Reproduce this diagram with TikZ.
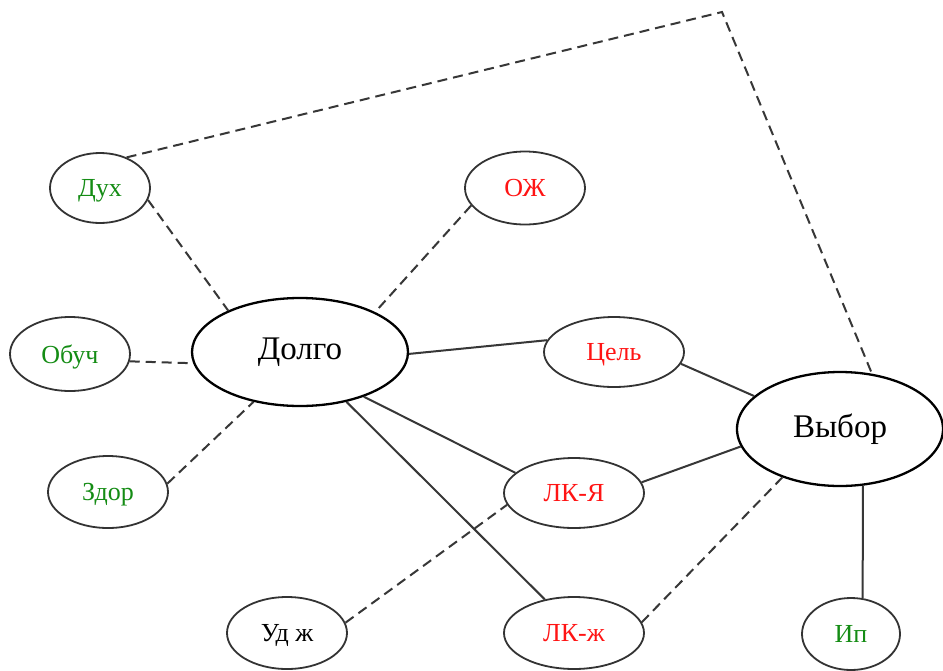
\documentclass[tikz,border=0pt]{standalone}
\usepackage{fontspec}
\setmainfont{Liberation Serif}
\usetikzlibrary{shapes.geometric}
\definecolor{lblgreen}{RGB}{20,140,20}
\definecolor{lblred}{RGB}{255,20,20}
\definecolor{edgegray}{RGB}{55,55,55}
\begin{document}
\begin{tikzpicture}[x=1pt,y=-1pt,
 small/.style={ellipse,draw=black!80,line width=1.8pt,inner sep=0pt,font=\fontsize{26}{28}\selectfont,text depth=0pt},
 big/.style={ellipse,draw=black,line width=2.3pt,inner sep=0pt,font=\fontsize{33}{36}\selectfont},
 solidedge/.style={draw=edgegray,line width=2pt},
 dashedge/.style={draw=edgegray,line width=2pt,dash pattern=on 10pt off 6pt}]
\fill[white] (0,0) rectangle (943,670);
\useasboundingbox (0,0) rectangle (943,670);

\node[small,minimum width=100,minimum height=70,text=lblgreen] (dux) at (100,188) {Дух};
\node[small,minimum width=120,minimum height=73,text=lblred] (oj) at (525,188) {ОЖ};
\node[small,minimum width=120,minimum height=74,text=lblgreen] (obuch) at (70,354) {Обуч};
\node[big,minimum width=216,minimum height=108] (dolgo) at (300,352) {Долго};
\node[small,minimum width=140,minimum height=70,text=lblred] (cel) at (614,352) {Цель};
\node[big,minimum width=206,minimum height=114] (vybor) at (840,429) {Выбор};
\node[small,minimum width=120,minimum height=72,text=lblgreen] (zdor) at (108,492) {Здор};
\node[small,minimum width=140,minimum height=70,text=lblred] (lky) at (574,493) {ЛК-Я};
\node[small,minimum width=120,minimum height=72,text=black] (udz) at (287,633) {Уд ж};
\node[small,minimum width=140,minimum height=72,text=lblred] (lkz) at (574,633) {ЛК-ж};
\node[small,minimum width=98,minimum height=72,text=lblgreen] (ip) at (851,634) {Ип};
\coordinate (top) at (722,12);

\draw[dashedge] (dux.49) -- (top) -- (vybor.60);
\draw[dashedge] (dux.-14) -- (dolgo.150);
\draw[dashedge] (oj.198) -- (dolgo.28);
\draw[dashedge] (obuch.-7) -- (dolgo.186);
\draw[dashedge] (zdor.8) -- (dolgo.227);
\draw[solidedge] (dolgo.-1) -- (cel.170);
\draw[solidedge] (dolgo.-35) -- (lky.161);
\draw[solidedge] (dolgo.-47) -- (lkz.131.5);
\draw[solidedge] (cel.-10.7) -- (vybor.159.6);
\draw[solidedge] (lky.9) -- (vybor.190.4);
\draw[dashedge] (udz.10.4) -- (lky.190);
\draw[dashedge] (lkz.9) -- (vybor.220.7);
\draw[solidedge] (vybor.-68.4) -- (ip.72.6);
\end{tikzpicture}
\end{document}
